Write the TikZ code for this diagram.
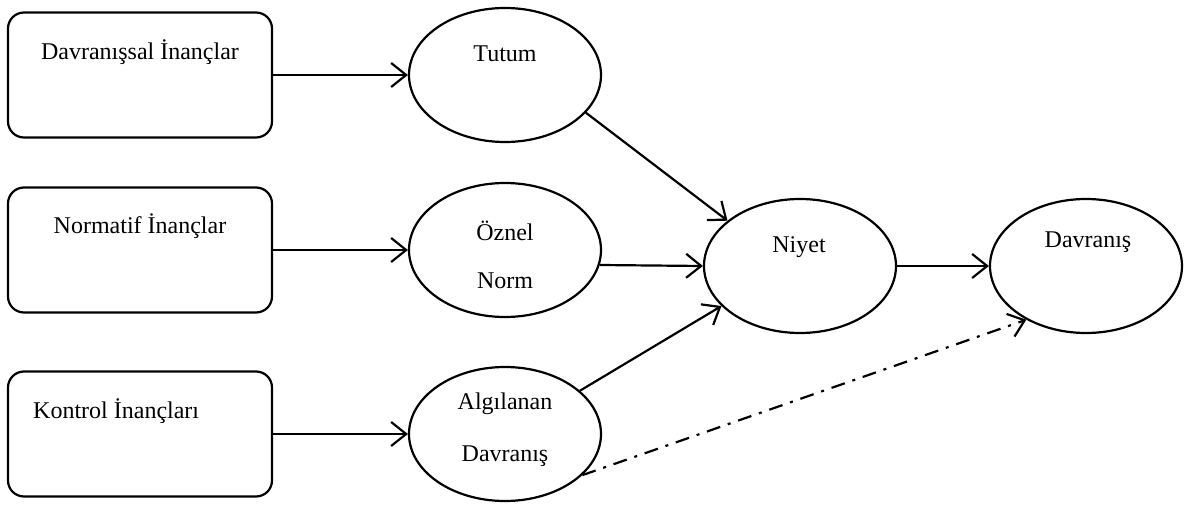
\documentclass[tikz,border=0pt]{standalone}
\usepackage{fontspec}
\setmainfont{Liberation Serif}
\usetikzlibrary{arrows.meta,positioning,shapes.geometric}

\begin{document}
\begin{tikzpicture}[
    x=1pt,y=-1pt,
    mybox/.style={
    rectangle,
    draw=black,
    line width=2.2pt,
    rounded corners=16pt,
    minimum width=264pt,
    minimum height=125pt,
    inner sep=0pt},
    myellipse/.style={
    ellipse,
    draw=black,
    line width=2.2pt,
    minimum width=192pt,
    minimum height=134pt,
    inner sep=0pt},
    mytext/.style={inner sep=0pt,font=\fontsize{24}{28}\selectfont},
    myarrow/.style={-{Straight Barb[length=15pt,width=24pt,line width=2.2pt]},line width=2.2pt},
    mydashdot/.style={myarrow,dash pattern=on 14pt off 8pt on 3pt off 8pt}
    ]
    \useasboundingbox (0,0) rectangle (1184,513);

    \node[mybox] (b1) at (140,75) {};
    \node[mybox] (b2) at (140,250) {};
    \node[mybox] (b3) at (140,434) {};

    \node[myellipse] (tutum) at (505,75) {};
    \node[myellipse] (oznel) at (505,250) {};
    \node[myellipse] (algi) at (505,434) {};
    \node[myellipse] (niyet) at (800,266) {};
    \node[myellipse] (davr) at (1086,266) {};

    \node[mytext] (tb1) at (140,52) {Davranışsal İnançlar};
    \node[mytext] (tb2) at (140,226) {Normatif İnançlar};
    \node[mytext,anchor=west] (tb3) at (33,411) {Kontrol İnançları};
    \node[mytext] (tt) at (505,54) {Tutum};
    \node[mytext] (to1) at (505,231) {Öznel};
    \node[mytext] (to2) at (505,281) {Norm};
    \node[mytext] (ta1) at (505,404) {Algılanan};
    \node[mytext] (ta2) at (505,456) {Davranış};
    \node[mytext] (tn) at (799,247) {Niyet};
    \node[mytext] (td) at (1088,242) {Davranış};

    \draw[myarrow] (b1.east) -- (tutum.west);
    \draw[myarrow] (b2.east) -- (oznel.west);
    \draw[myarrow] (b3.east) -- (algi.west);

    \draw[myarrow] (tutum.-25) -- (niyet.148);
    \draw[myarrow] (oznel.-9) -- (niyet.west);
    \draw[myarrow] (algi.30) -- (niyet.-153);
    \draw[myarrow] (niyet.east) -- (davr.west);
    \draw[mydashdot] (algi.-28) -- (davr.222);
\end{tikzpicture}
\end{document}
